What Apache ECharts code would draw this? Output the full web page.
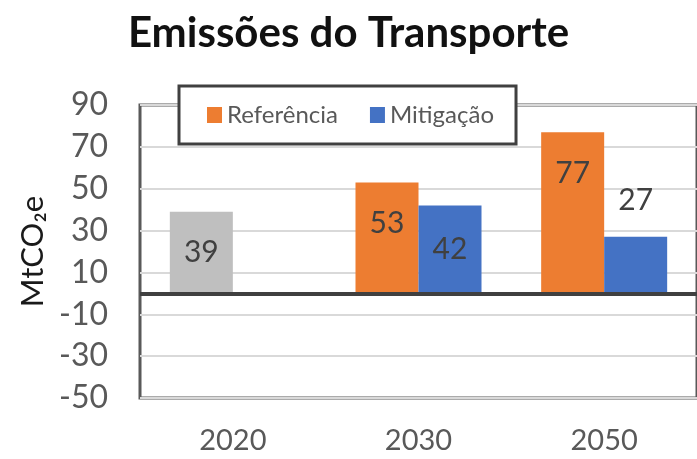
<!DOCTYPE html>
<html>
<head>
<meta charset="utf-8">
<script src="https://cdn.jsdelivr.net/npm/echarts@6/dist/echarts.min.js"></script>
<style>
  html, body { margin: 0; padding: 0; background: #fff; }
  #chart { width: 697px; height: 459px; }
</style>
</head>
<body>
<div id="chart"></div>
<script>
// data
const categories = ['2020', '2030', '2050']
const referencia = [39, 53, 77]
const mitigacao = [null, 42, 27]
const yMin = -50
const yMax = 90
const yStep = 20

const FONT = 'Lato, "Open Sans", sans-serif'
const ORANGE = '#ED7D31'
const BLUE = '#4472C4'
const GRAY = '#BFBFBF'

// label placement per bar (hand-placed in the original)
const refLabel = [
  { position: 'inside' },
  { position: 'inside', offset: [0, -15] },
  { position: 'inside', offset: [0, -39] }
]
const mitLabel = [
  {},
  { position: 'inside' },
  { position: 'top', distance: 22 }
]

const refData = referencia.map((v, i) => {
  const item = { value: v, label: refLabel[i] }
  if (i === 0) item.itemStyle = { color: GRAY } // 2020 is the base year
  return item
})
const mitData = mitigacao.map((v, i) => ({ value: v, label: mitLabel[i] }))

const chart = echarts.init(document.getElementById('chart'))

const labelStyle = {
  show: true,
  fontFamily: FONT,
  fontSize: 30,
  color: '#404040'
}

chart.setOption({
  animation: false,
  title: {
    text: 'Emissões do Transporte',
    left: 'center',
    top: 7,
    textStyle: { fontFamily: FONT, fontSize: 42, fontWeight: 'bold', color: '#111' }
  },
  legend: {
    data: ['Referência', 'Mitigação'],
    left: 179,
    top: 86,
    icon: 'rect',
    itemWidth: 15,
    itemHeight: 16,
    itemGap: 32,
    padding: [17, 22, 17, 28],
    borderColor: '#404040',
    borderWidth: 3,
    backgroundColor: '#fff',
    textStyle: { fontFamily: FONT, fontSize: 24, color: '#595959' }
  },
  grid: {
    left: 140,
    top: 105,
    width: 561,
    height: 293,
    show: true,
    borderColor: '#595959',
    borderWidth: 3,
    containLabel: false
  },
  xAxis: {
    type: 'category',
    data: categories,
    axisLine: { show: false },
    axisTick: { show: false },
    axisLabel: { fontFamily: FONT, fontSize: 29, color: '#595959', margin: 28 }
  },
  yAxis: {
    type: 'value',
    min: yMin,
    max: yMax,
    interval: yStep,
    name: 'MtCO₂e',
    nameLocation: 'middle',
    nameRotate: 90,
    nameGap: 92,
    nameTextStyle: { fontFamily: FONT, fontSize: 31, color: '#1a1a1a' },
    axisLine: { show: false },
    axisTick: { show: false },
    axisLabel: { fontFamily: FONT, fontSize: 32, color: '#595959', margin: 32 },
    splitLine: { lineStyle: { color: '#D9D9D9', width: 2 } }
  },
  series: [
    {
      name: 'Referência',
      type: 'bar',
      data: refData,
      barWidth: 63,
      barGap: '0%',
      itemStyle: { color: ORANGE },
      label: labelStyle,
      markLine: {
        silent: true,
        symbol: 'none',
        label: { show: false },
        lineStyle: { color: '#404040', width: 4, type: 'solid' },
        data: [{ yAxis: 0 }]
      }
    },
    {
      name: 'Mitigação',
      type: 'bar',
      data: mitData,
      barWidth: 63,
      itemStyle: { color: BLUE },
      label: labelStyle
    }
  ]
})
</script>
</body>
</html>
